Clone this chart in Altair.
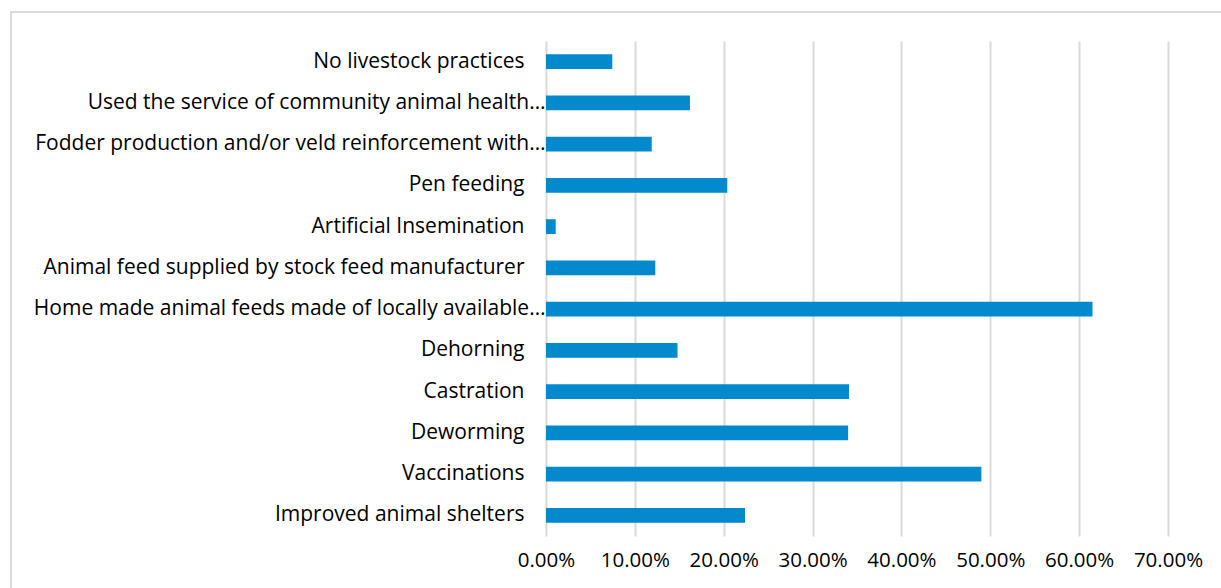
import altair as alt
import pandas as pd

categories = [
    "No livestock practices",
    "Used the service of community animal health…",
    "Fodder production and/or veld reinforcement with…",
    "Pen feeding",
    "Artificial Insemination",
    "Animal feed supplied by stock feed manufacturer",
    "Home made animal feeds made of locally available…",
    "Dehorning",
    "Castration",
    "Deworming",
    "Vaccinations",
    "Improved animal shelters",
]
values = [0.0746, 0.162, 0.119, 0.204, 0.0109, 0.123, 0.615, 0.148, 0.341, 0.340, 0.490, 0.224]
x_ticks = [0, 0.1, 0.2, 0.3, 0.4, 0.5, 0.6, 0.7]

df = pd.DataFrame({"category": categories, "value": values})

FONT = "Open Sans"

bars = alt.Chart(df).mark_bar(color="#0589CD").encode(
    x=alt.X(
        "value:Q",
        scale=alt.Scale(domain=[0, 0.7], nice=False),
        axis=alt.Axis(
            values=x_ticks,
            format=".2%",
            title=None,
            grid=True,
            gridColor="#D9D9D9",
            gridWidth=2,
            domain=False,
            ticks=False,
            labelPadding=14,
            labelFontSize=20.5,
            labelFont=FONT,
            labelColor="#000000",
            labelOverlap=False,
            labelFlush=False,
            labelBound=False,
        ),
    ),
    y=alt.Y(
        "category:N",
        sort=categories,
        scale=alt.Scale(paddingInner=0.64, paddingOuter=0.32),
        axis=alt.Axis(
            title=None,
            domain=False,
            ticks=False,
            grid=False,
            labelPadding={"condition": {"test": "indexof(datum.label, '…') >= 0", "value": 1}, "value": 22},
            labelLimit=0,
            labelFontSize=21,
            labelFont=FONT,
            labelColor="#000000",
        ),
    ),
)

border = alt.Chart(alt.Data(values=[{"a": 1}])).mark_rect(
    fill=None, stroke="#D0D0D0", strokeWidth=1.5, clip=False
).encode(
    x=alt.value(-535),
    x2=alt.value(700),
    y=alt.value(-29),
    y2=alt.value(600),
)

chart = alt.layer(border, bars).properties(
    width=622,
    height=495,
    background="white",
    autosize=alt.AutoSizeParams(type="none"),
    padding={"left": 546, "top": 41, "right": 53, "bottom": 52},
).configure_view(strokeWidth=0, stroke="transparent")

chart.save("out.html", embed_options={"renderer": "svg", "actions": False})
